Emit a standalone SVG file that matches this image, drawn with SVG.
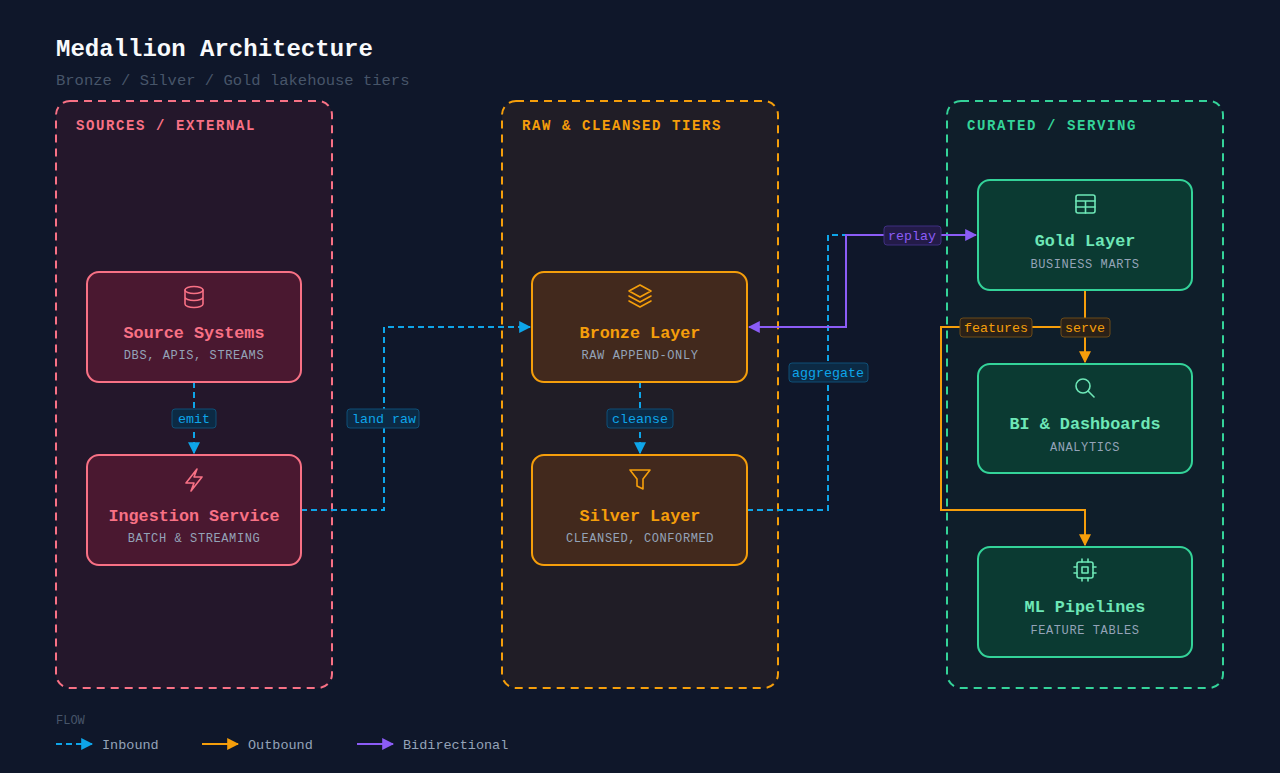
<svg xmlns="http://www.w3.org/2000/svg" width="1280" height="773" viewBox="0 0 1280 773">
<defs>
<style>
text{font-family:"Liberation Mono","Courier New",monospace}
.title{font-size:24px;font-weight:bold;fill:#f8fafc}
.sub{font-size:15.5px;fill:#475569}
.ct{font-size:14px;font-weight:bold;letter-spacing:1.6px}
.nt{font-size:16.8px;font-weight:bold;text-anchor:middle}
.ns{font-size:12px;fill:#94a3b8;text-anchor:middle;letter-spacing:0.6px}
.lb{font-size:13.3px;text-anchor:middle}
.in{stroke:#0ea5e9;stroke-width:2;fill:none;stroke-dasharray:6 4}
.out{stroke:#f59e0b;stroke-width:2;fill:none}
.bi{stroke:#8b5cf6;stroke-width:2;fill:none}
.ico{fill:none;stroke-width:1.6;stroke-linecap:round;stroke-linejoin:round}
</style>
<marker id="ab" viewBox="0 0 10 10" refX="9" refY="5" markerWidth="6" markerHeight="6" orient="auto-start-reverse"><path d="M0,0L10,5L0,10z" fill="#0ea5e9"/></marker>
<marker id="ao" viewBox="0 0 10 10" refX="9" refY="5" markerWidth="6" markerHeight="6" orient="auto-start-reverse"><path d="M0,0L10,5L0,10z" fill="#f59e0b"/></marker>
<marker id="ap" viewBox="0 0 10 10" refX="9" refY="5" markerWidth="6" markerHeight="6" orient="auto-start-reverse"><path d="M0,0L10,5L0,10z" fill="#8b5cf6"/></marker>
</defs>
<rect width="1280" height="773" fill="#0f172a"/>
<text x="56" y="56" class="title">Medallion Architecture</text>
<text x="56" y="85" class="sub">Bronze / Silver / Gold lakehouse tiers</text>

<g id="group-sources"><rect x="56" y="101" width="276" height="587" rx="14" fill="#24172b" stroke="#f87185" stroke-width="2" stroke-dasharray="8 6"/><text x="76" y="130" class="ct" fill="#f87185">SOURCES / EXTERNAL</text></g>
<g id="group-tiers"><rect x="502" y="101" width="276" height="587" rx="14" fill="#201d26" stroke="#f59e0b" stroke-width="2" stroke-dasharray="8 6"/><text x="522" y="130" class="ct" fill="#f59e0b">RAW &amp; CLEANSED TIERS</text></g>
<g id="group-serving"><rect x="947" y="101" width="276" height="587" rx="14" fill="#0f1e2a" stroke="#34d399" stroke-width="2" stroke-dasharray="8 6"/><text x="967" y="130" class="ct" fill="#34d399">CURATED / SERVING</text></g>

<g id="connectors">
<path class="in" d="M194,382V453" marker-end="url(#ab)"/>
<path class="in" d="M301,510H384V327H530" marker-end="url(#ab)"/>
<path class="in" d="M640,382V453" marker-end="url(#ab)"/>
<path class="in" d="M747,510H828V235H976"/>
<path class="bi" d="M749,327H846V235H976" marker-start="url(#ap)" marker-end="url(#ap)"/>
<path class="out" d="M1085,290V362" marker-end="url(#ao)"/>
<path class="out" d="M1085,327H941V510H1085V545" marker-end="url(#ao)"/>
<g class="lb">
<rect x="172" y="409" width="44" height="19" rx="3" fill="#0c2a44" stroke="#0e4f77"/><text x="194" y="422.5" fill="#0ea5e9">emit</text>
<rect x="347" y="409" width="72" height="19" rx="3" fill="#0c2a44" stroke="#0e4f77"/><text x="384" y="422.5" fill="#0ea5e9">land raw</text>
<rect x="607" y="409" width="66" height="19" rx="3" fill="#0c2a44" stroke="#0e4f77"/><text x="640" y="422.5" fill="#0ea5e9">cleanse</text>
<rect x="789" y="363" width="79" height="19" rx="3" fill="#0c2a44" stroke="#0e4f77"/><text x="828" y="376.5" fill="#0ea5e9">aggregate</text>
<rect x="884" y="226" width="57" height="19" rx="3" fill="#231b48" stroke="#3f2f80"/><text x="912" y="239.5" fill="#8b5cf6">replay</text>
<rect x="960" y="318" width="72" height="19" rx="3" fill="#2a2118" stroke="#6b4a18"/><text x="996" y="331.5" fill="#f59e0b">features</text>
<rect x="1061" y="318" width="49" height="19" rx="3" fill="#2a2118" stroke="#6b4a18"/><text x="1085" y="331.5" fill="#f59e0b">serve</text>
</g>
</g>

<g id="node-source">
<rect x="87" y="272" width="214" height="110" rx="12" fill="#4a1830" stroke="#f87185" stroke-width="2"/>
<g class="ico" stroke="#f87185"><ellipse cx="194" cy="290" rx="9" ry="3.5"/><path d="M185,290V304A9,3.5 0 0 0 203,304V290M185,297A9,3.5 0 0 0 203,297"/></g>
<text x="194" y="338" class="nt" fill="#f87185">Source Systems</text><text x="194" y="359" class="ns">DBS, APIS, STREAMS</text>
</g>
<g id="node-ingestion">
<rect x="87" y="455" width="214" height="110" rx="12" fill="#4a1830" stroke="#f87185" stroke-width="2"/>
<path class="ico" stroke="#f87185" d="M197,469L186,483H194L191,491L202,477H194Z"/>
<text x="194" y="521" class="nt" fill="#f87185">Ingestion Service</text><text x="194" y="542" class="ns">BATCH &amp; STREAMING</text>
</g>
<g id="node-bronze">
<rect x="532" y="272" width="215" height="110" rx="12" fill="#42291d" stroke="#f59e0b" stroke-width="2"/>
<path class="ico" stroke="#f59e0b" d="M640,285L651,291L640,297L629,291ZM629,296L640,302L651,296M629,301L640,307L651,301"/>
<text x="640" y="338" class="nt" fill="#f59e0b">Bronze Layer</text><text x="640" y="359" class="ns">RAW APPEND-ONLY</text>
</g>
<g id="node-silver">
<rect x="532" y="455" width="215" height="110" rx="12" fill="#42291d" stroke="#f59e0b" stroke-width="2"/>
<path class="ico" stroke="#f59e0b" d="M630,470H650L643,479V489L637,486V479Z"/>
<text x="640" y="521" class="nt" fill="#f59e0b">Silver Layer</text><text x="640" y="542" class="ns">CLEANSED, CONFORMED</text>
</g>
<g id="node-gold">
<rect x="978" y="180" width="214" height="110" rx="12" fill="#0b3a32" stroke="#34d399" stroke-width="2"/>
<g class="ico" stroke="#6ee7b7"><rect x="1076" y="195" width="19" height="18" rx="2"/><path d="M1076,201H1095M1076,207H1095M1085.5,201V213"/></g>
<text x="1085" y="246" class="nt" fill="#6ee7b7">Gold Layer</text><text x="1085" y="268" class="ns">BUSINESS MARTS</text>
</g>
<g id="node-bi">
<rect x="978" y="364" width="214" height="109" rx="12" fill="#0b3a32" stroke="#34d399" stroke-width="2"/>
<g class="ico" stroke="#6ee7b7"><circle cx="1083" cy="386" r="7"/><path d="M1088,391L1094,397"/></g>
<text x="1085" y="429" class="nt" fill="#6ee7b7">BI &amp; Dashboards</text><text x="1085" y="451" class="ns">ANALYTICS</text>
</g>
<g id="node-ml">
<rect x="978" y="547" width="214" height="110" rx="12" fill="#0b3a32" stroke="#34d399" stroke-width="2"/>
<g class="ico" stroke="#6ee7b7"><rect x="1077" y="562" width="16" height="16" rx="2"/><rect x="1082" y="567" width="6" height="6"/><path d="M1082,559V562M1088,559V562M1082,578V581M1088,578V581M1074,567H1077M1074,573H1077M1093,567H1096M1093,573H1096"/></g>
<text x="1085" y="612" class="nt" fill="#6ee7b7">ML Pipelines</text><text x="1085" y="634" class="ns">FEATURE TABLES</text>
</g>

<g id="legend">
<text x="56" y="724" font-size="12" fill="#475569">FLOW</text>
<path class="in" d="M56,744H92" marker-end="url(#ab)"/><text x="102" y="749" font-size="13.5" fill="#94a3b8">Inbound</text>
<path class="out" d="M202,744H238" marker-end="url(#ao)"/><text x="248" y="749" font-size="13.5" fill="#94a3b8">Outbound</text>
<path class="bi" d="M357,744H393" marker-end="url(#ap)"/><text x="403" y="749" font-size="13.5" fill="#94a3b8">Bidirectional</text>
</g>
</svg>
